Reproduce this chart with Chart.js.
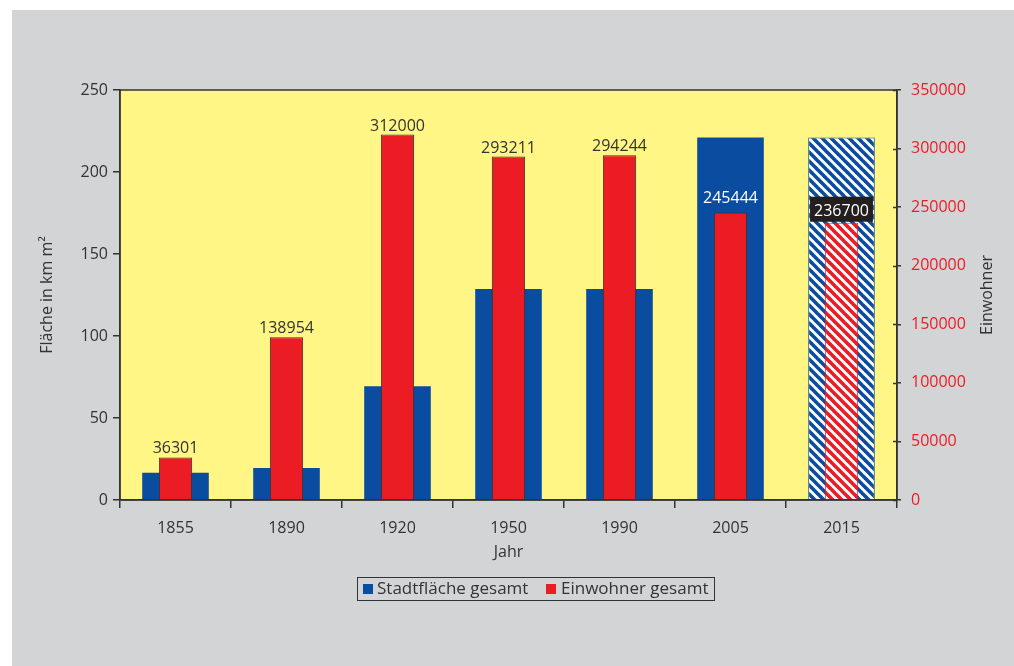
<!DOCTYPE html>
<html>
<head>
<meta charset="utf-8">
<script src="https://cdn.jsdelivr.net/npm/chart.js@4.4.1/dist/chart.umd.min.js"></script>
<style>
  html, body { margin: 0; padding: 0; background: #fff; }
  #chart { display: block; }
</style>
</head>
<body>
<canvas id="chart" width="1014" height="666"></canvas>
<script>
// data
var years = ["1855", "1890", "1920", "1950", "1990", "2005", "2015"];
var flaeche = [16.6, 19.5, 69.4, 128.7, 128.7, 221, 221];
var einwohner = [36301, 138954, 312000, 293211, 294244, 245444, 236700];
var flaecheTicks = [0, 50, 100, 150, 200, 250];
var einwohnerTicks = [0, 50000, 100000, 150000, 200000, 250000, 300000, 350000];

var FONT = "'Open Sans', sans-serif";
var BLUE = "#0a4c9f";
var RED = "#ec1c24";
var DARK = "#333333";
var YELLOW = "#fff685";
var GRAY = "#d3d4d6";

// diagonal stripes for the 2015 forecast bars
function stripes(color) {
  var c = document.createElement("canvas");
  c.width = 9; c.height = 9;
  var g = c.getContext("2d");
  g.fillStyle = "#ffffff";
  g.fillRect(0, 0, 9, 9);
  g.strokeStyle = color;
  g.lineWidth = 3.6;
  for (var x0 = -9; x0 <= 9; x0 += 9) {
    g.beginPath();
    g.moveTo(x0 - 2, -2);
    g.lineTo(x0 + 11, 11);
    g.stroke();
  }
  return g.createPattern(c, "repeat");
}

var ctx = document.getElementById("chart").getContext("2d");
var blueFill = years.map(function(y, i) { return i === 6 ? stripes(BLUE) : BLUE; });
var redFill = years.map(function(y, i) { return i === 6 ? stripes(RED) : RED; });

var deco = {
  id: "deco",
  beforeDraw: function(chart) {
    var c = chart.ctx, a = chart.chartArea;
    c.save();
    c.fillStyle = "#ffffff";
    c.fillRect(0, 0, chart.width, chart.height);
    c.fillStyle = GRAY;
    c.fillRect(12, 10, chart.width - 12, chart.height - 10);
    c.fillStyle = YELLOW;
    c.fillRect(a.left, a.top, a.right - a.left, a.bottom - a.top);
    c.restore();
  },
  afterDatasetsDraw: function(chart) {
    var c = chart.ctx;
    var meta = chart.getDatasetMeta(1);
    c.save();
    c.font = "16px " + FONT;
    c.textAlign = "center";
    c.textBaseline = "alphabetic";
    meta.data.forEach(function(el, i) {
      var txt = String(einwohner[i]);
      if (i === 6) {
        var w = c.measureText(txt).width;
        c.fillStyle = "#231f20";
        c.fillRect(el.x - w / 2 - 4, el.y - 26, w + 8, 25);
        c.fillStyle = "#ffffff";
        c.fillText(txt, el.x, el.y - 7);
      } else if (i === 5) {
        c.fillStyle = "#ffffff";
        c.fillText(txt, el.x, el.y - 9);
      } else {
        c.fillStyle = DARK;
        c.fillText(txt, el.x, el.y - 4);
      }
    });
    c.restore();
  },
  afterDraw: function(chart) {
    var c = chart.ctx, a = chart.chartArea;
    c.save();
    // frame of the plot area
    c.strokeStyle = DARK;
    c.lineWidth = 1.5;
    c.strokeRect(a.left, a.top, a.right - a.left, a.bottom - a.top);
    // inner part of the right ticks
    var y1 = chart.scales.y1;
    einwohnerTicks.forEach(function(v) {
      var py = Math.round(y1.getPixelForValue(v)) + 0.5;
      c.beginPath();
      c.moveTo(a.right - 4, py);
      c.lineTo(a.right, py);
      c.stroke();
    });
    // right axis title, reads bottom to top
    c.fillStyle = DARK;
    c.font = "16px " + FONT;
    c.textAlign = "center";
    c.textBaseline = "middle";
    c.translate(987, (a.top + a.bottom) / 2);
    c.rotate(-Math.PI / 2);
    c.fillText("Einwohner", 0, 0);
    c.restore();

    // legend with a frame
    c.save();
    c.strokeStyle = DARK;
    c.lineWidth = 1;
    c.strokeRect(357.5, 577.5, 357, 23);
    c.font = "17px " + FONT;
    c.textBaseline = "middle";
    c.fillStyle = BLUE;
    c.fillRect(363, 584, 10, 10);
    c.fillStyle = DARK;
    c.fillText(chart.data.datasets[0].label, 377, 589);
    c.fillStyle = RED;
    c.fillRect(546, 584, 10, 10);
    c.fillStyle = DARK;
    c.fillText(chart.data.datasets[1].label, 561, 589);
    c.restore();
  }
};

new Chart(ctx, {
  type: "bar",
  data: {
    labels: years,
    datasets: [
      {
        label: "Stadtfläche gesamt",
        data: flaeche,
        yAxisID: "y",
        backgroundColor: blueFill,
        borderColor: BLUE,
        borderWidth: years.map(function(y, i) { return i === 6 ? 1 : 0; }),
        barPercentage: 0.6,
        categoryPercentage: 1,
        grouped: false,
        order: 1
      },
      {
        label: "Einwohner gesamt",
        data: einwohner,
        yAxisID: "y1",
        backgroundColor: redFill,
        borderColor: years.map(function(y, i) { return i === 6 ? RED : DARK; }),
        borderWidth: 1,
        barPercentage: 0.3,
        categoryPercentage: 1,
        grouped: false,
        order: 0
      }
    ]
  },
  options: {
    responsive: false,
    animation: false,
    devicePixelRatio: 1,
    layout: { padding: { left: 34, top: 90, right: 0, bottom: 100 } },
    plugins: {
      legend: { display: false },
      tooltip: { enabled: false }
    },
    scales: {
      x: {
        offset: true,
        grid: { display: true, drawOnChartArea: false, offset: true, tickLength: 8, color: DARK, lineWidth: 1.5 },
        border: { display: true, color: DARK, width: 1.5 },
        ticks: { color: DARK, font: { family: FONT, size: 16 }, padding: 11 },
        title: { display: true, text: "Jahr", color: DARK, font: { family: FONT, size: 16 } },
        afterFit: function(s) { s.height = 66; }
      },
      y: {
        position: "left",
        min: 0,
        max: 250,
        afterBuildTicks: function(s) { s.ticks = flaecheTicks.map(function(v) { return { value: v }; }); },
        grid: { display: true, drawOnChartArea: false, tickLength: 7, color: DARK, lineWidth: 1.5 },
        border: { display: true, color: DARK, width: 1.5 },
        ticks: { color: DARK, font: { family: FONT, size: 16 }, padding: 5 },
        title: { display: true, text: "Fläche in km m²", color: DARK, font: { family: FONT, size: 16 } },
        afterFit: function(s) { s.width = 86; }
      },
      y1: {
        position: "right",
        min: 0,
        max: 350000,
        afterBuildTicks: function(s) { s.ticks = einwohnerTicks.map(function(v) { return { value: v }; }); },
        grid: { display: true, drawOnChartArea: false, tickLength: 4, color: DARK, lineWidth: 1.5 },
        border: { display: true, color: DARK, width: 1.5 },
        ticks: {
          color: RED,
          font: { family: FONT, size: 16 },
          padding: 10,
          callback: function(v) { return String(v); }
        },
        afterFit: function(s) { s.width = 117; }
      }
    }
  },
  plugins: [deco]
});
</script>
</body>
</html>
